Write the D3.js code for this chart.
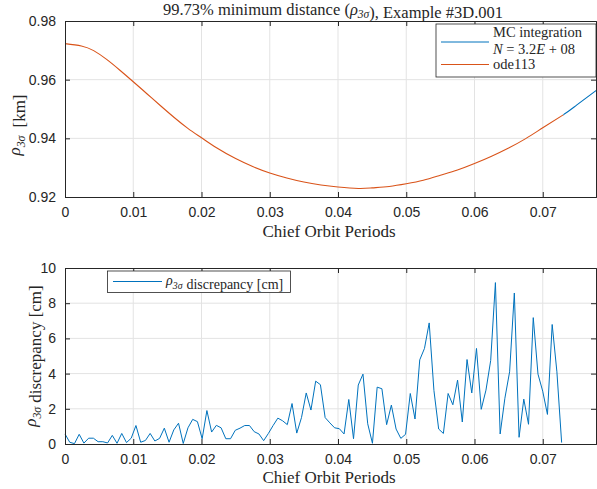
<!DOCTYPE html>
<html>
<head>
<meta charset="utf-8">
<script src="https://cdn.jsdelivr.net/npm/d3@7"></script>
<style>
  body { margin: 0; background: #fff; }
  .tick text { font-family: "Liberation Sans", Arial, sans-serif; font-size: 14px; fill: #262626; }
  .serif { font-family: "Liberation Serif", "Times New Roman", serif; fill: #262626; }
</style>
</head>
<body>
<div id="chart"></div>
<script>
// top panel: rho_3sigma [km] vs chief orbit periods
const topPeriods = [0, 0.0024, 0.0042, 0.0061, 0.008, 0.01, 0.012, 0.014, 0.016, 0.018, 0.02, 0.0222, 0.025, 0.0275,
    0.03, 0.0325, 0.035, 0.0375, 0.04, 0.043, 0.045, 0.0475, 0.05, 0.0525, 0.055, 0.0575, 0.06, 0.0625, 0.065, 0.0675,
    0.07, 0.073, 0.075, 0.078];
const mcRho = [0.9723, 0.9715, 0.9699, 0.9669, 0.9633, 0.9593, 0.9552, 0.9511, 0.9471, 0.9434, 0.9402, 0.9368, 0.9331, 0.9304,
    0.9282, 0.9265, 0.9251, 0.9241, 0.9234, 0.9229, 0.9231, 0.9236, 0.9245, 0.9257, 0.9274, 0.9292, 0.9314, 0.9339, 0.9367, 0.9399,
    0.9436, 0.9480, 0.9514, 0.9566];
const odeEnd = 0.073; // ode113 run stops here, MC curve shows past it
const odeRho = mcRho.slice(0, 32);

// bottom panel: discrepancy [cm], one sample every dt orbit periods
const dt = 0.000693;
const discrepancy = [0.57, 0.1, 0.02, 0.55, 0.05, 0.33, 0.33, 0.13, 0.13, 0.06,
    0.49, 0.04, 0.6, 0.08, 0.33, 1.05, 0.1, 0.2, 0.6, 0.17,
    0.32, 0.9, 0.1, 0.8, 1.18, 0.03, 0.92, 1.4, 1.27, 0.3,
    1.9, 0.68, 1.06, 0.92, 0.3, 0.3, 0.78, 0.9, 1.05, 1.05,
    0.7, 0.57, 0.19, 0.6, 1.05, 1.47, 1.32, 1.1, 2.3, 0.62,
    1.5, 2.9, 1.93, 3.57, 3.37, 1.5, 1.2, 0.92, 0.87, 0.57,
    2.53, 0.3, 3.35, 3.97, 1.15, 0.04, 3.23, 3.14, 1.1, 2.21,
    0.85, 0.32, 0.55, 2.87, 1.42, 4.78, 5.43, 6.88, 3.04, 0.85,
    0.6, 2.87, 2.23, 3.63, 1.25, 4.8, 2.9, 5.43, 1.97, 3.06,
    4.74, 9.17, 0.57, 2.6, 4.1, 8.58, 0.38, 2.55, 1.12, 7.18,
    3.97, 3.0, 1.68, 6.79, 4.1, 0.08];

const xTicks = [0, 0.01, 0.02, 0.03, 0.04, 0.05, 0.06, 0.07];
const topYTicks = [0.92, 0.94, 0.96, 0.98];
const botYTicks = [0, 2, 4, 6, 8, 10];

const blue = "#0072BD", orange = "#D95319", axisCol = "#262626", gridCol = "#e3e3e3";

const svg = d3.select("#chart").append("svg")
    .attr("width", 597)
    .attr("height", 489);

const left = 65, right = 596;
const x = d3.scaleLinear().domain([0, 0.0778]).range([left, right]);

function panel(top, bottom, y, yTicks, yFmt) {
    const g = svg.append("g");
    // grid
    g.selectAll(".vg").data(xTicks.slice(1)).enter().append("line")
        .attr("x1", d => x(d)).attr("x2", d => x(d))
        .attr("y1", top).attr("y2", bottom)
        .attr("stroke", gridCol).attr("stroke-width", 1);
    g.selectAll(".hg").data(yTicks.slice(1, -1)).enter().append("line")
        .attr("x1", left).attr("x2", right)
        .attr("y1", d => y(d)).attr("y2", d => y(d))
        .attr("stroke", gridCol).attr("stroke-width", 1);

    const axes = svg.append("g");
    axes.append("g")
        .attr("transform", `translate(0,${bottom})`)
        .call(d3.axisBottom(x).tickValues(xTicks).tickSize(-5).tickPadding(10)
            .tickFormat(d => d === 0 ? "0" : d3.format(".2f")(d)));
    axes.append("g")
        .attr("transform", `translate(0,${top})`)
        .call(d3.axisTop(x).tickValues(xTicks).tickSize(-5).tickFormat(""));
    axes.append("g")
        .attr("transform", `translate(${left},0)`)
        .call(d3.axisLeft(y).tickValues(yTicks).tickSize(-5).tickPadding(9).tickFormat(yFmt));
    axes.append("g")
        .attr("transform", `translate(${right},0)`)
        .call(d3.axisRight(y).tickValues(yTicks).tickSize(-5).tickFormat(""));
    axes.selectAll("path.domain").attr("stroke", axisCol);
    axes.selectAll(".tick line").attr("stroke", axisCol);
    return axes;
}

function rhoLabel(sel, size, drop = 0.3) {
    sel.append("tspan").style("font-style", "italic").text("ρ");
    sel.append("tspan").attr("dy", size * drop).style("font-size", (size * 0.7) + "px")
        .style("font-style", "italic").text("3σ");
    sel.append("tspan").attr("dy", -size * drop).text("");
}

// ---------- top panel ----------
const yTop = d3.scaleLinear().domain([0.92, 0.98]).range([197, 21]);
const topAxes = panel(21, 197, yTop, topYTicks, d3.format(".2f"));

svg.append("clipPath").attr("id", "mcclip").append("rect")
    .attr("x", x(odeEnd)).attr("y", 21).attr("width", right - x(odeEnd)).attr("height", 176);

const lineTop = d3.line().x(d => x(d[0])).y(d => yTop(d[1])).curve(d3.curveNatural);
svg.append("path")
    .datum(topPeriods.map((p, i) => [p, mcRho[i]]))
    .attr("clip-path", "url(#mcclip)")
    .attr("d", lineTop).attr("fill", "none").attr("stroke", blue).attr("stroke-width", 1.1);
svg.append("path")
    .datum(odeRho.map((v, i) => [topPeriods[i], v]))
    .attr("d", lineTop).attr("fill", "none").attr("stroke", orange).attr("stroke-width", 1.1);
topAxes.raise();

// title
const title = svg.append("text").attr("class", "serif")
    .attr("x", 333).attr("y", 15).attr("text-anchor", "middle").style("font-size", "16.5px");
title.append("tspan").text("99.73% minimum distance (");
rhoLabel(title, 16.5, 0.2);
title.append("tspan").text("), Example #3D.001");

svg.append("text").attr("class", "serif")
    .attr("x", 329).attr("y", 237).attr("text-anchor", "middle").style("font-size", "17px")
    .text("Chief Orbit Periods");

const yl1 = svg.append("text").attr("class", "serif")
    .attr("transform", "translate(20,125) rotate(-90)").attr("text-anchor", "middle").style("font-size", "17px");
rhoLabel(yl1, 17);
yl1.append("tspan").attr("dx", 8).text("[km]");

// legend top
const lg = svg.append("g");
lg.append("rect").attr("x", 436).attr("y", 24).attr("width", 160).attr("height", 53)
    .attr("fill", "#fff").attr("stroke", axisCol).attr("stroke-width", 0.8);
lg.append("line").attr("x1", 441).attr("x2", 489).attr("y1", 42).attr("y2", 42)
    .attr("stroke", blue).attr("stroke-width", 1);
lg.append("line").attr("x1", 441).attr("x2", 489).attr("y1", 64.5).attr("y2", 64.5)
    .attr("stroke", orange).attr("stroke-width", 1);
lg.append("text").attr("class", "serif").attr("x", 493).attr("y", 37).style("font-size", "14.5px")
    .text("MC integration");
const nLab = lg.append("text").attr("class", "serif").attr("x", 493).attr("y", 54).style("font-size", "14.5px");
nLab.append("tspan").style("font-style", "italic").text("N");
nLab.append("tspan").text(" = 3.2");
nLab.append("tspan").style("font-style", "italic").text("E");
nLab.append("tspan").text(" + 08");
lg.append("text").attr("class", "serif").attr("x", 493).attr("y", 69).style("font-size", "14.5px")
    .text("ode113");

// ---------- bottom panel ----------
const yBot = d3.scaleLinear().domain([0, 10]).range([444, 268]);
const botAxes = panel(268, 444, yBot, botYTicks, d3.format("d"));

svg.append("path")
    .datum(discrepancy.map((v, i) => [i * dt, v]))
    .attr("d", d3.line().x(d => x(d[0])).y(d => yBot(d[1])))
    .attr("fill", "none").attr("stroke", blue).attr("stroke-width", 1);
botAxes.raise();

svg.append("text").attr("class", "serif")
    .attr("x", 329).attr("y", 483).attr("text-anchor", "middle").style("font-size", "17px")
    .text("Chief Orbit Periods");

const yl2 = svg.append("text").attr("class", "serif")
    .attr("transform", "translate(36,356) rotate(-90)").attr("text-anchor", "middle").style("font-size", "17px");
rhoLabel(yl2, 17);
yl2.append("tspan").attr("dx", 4).text("discrepancy [cm]");

const lg2 = svg.append("g");
lg2.append("rect").attr("x", 107.5).attr("y", 271).attr("width", 183).attr("height", 21.5)
    .attr("fill", "#fff").attr("stroke", axisCol).attr("stroke-width", 0.8);
lg2.append("line").attr("x1", 113).attr("x2", 162).attr("y1", 281.5).attr("y2", 281.5)
    .attr("stroke", blue).attr("stroke-width", 1);
const l2 = lg2.append("text").attr("class", "serif").attr("x", 166).attr("y", 285).style("font-size", "14px");
rhoLabel(l2, 14);
l2.append("tspan").attr("dx", 4).text("discrepancy [cm]");
</script>
</body>
</html>
